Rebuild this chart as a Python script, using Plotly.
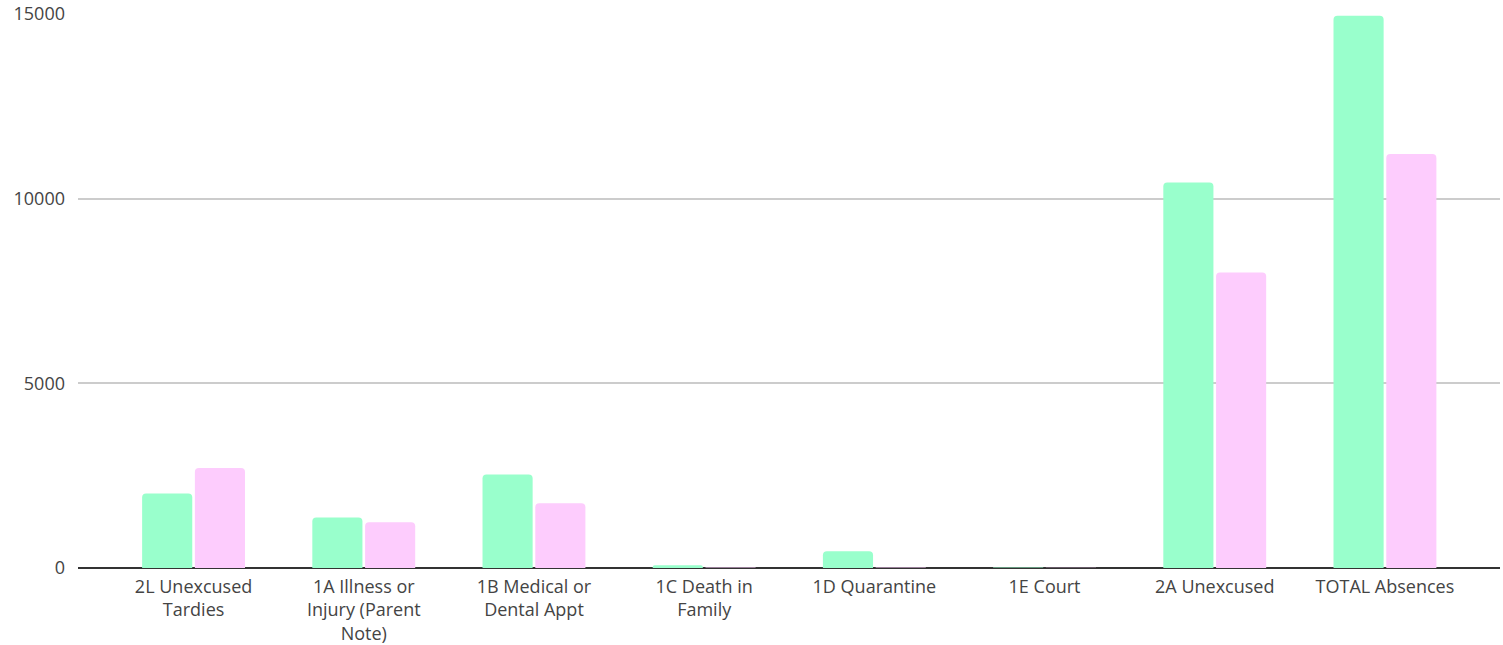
import plotly.graph_objects as go

categories = [
    "2L Unexcused<br>Tardies",
    "1A Illness or<br>Injury (Parent<br>Note)",
    "1B Medical or<br>Dental Appt",
    "1C Death in<br>Family",
    "1D Quarantine",
    "1E Court",
    "2A Unexcused",
    "TOTAL Absences",
]
series_a = [2015, 1365, 2530, 75, 455, 15, 10440, 14950]
series_b = [2710, 1240, 1755, 12, 15, 10, 8000, 11210]
y_ticks = [0, 5000, 10000, 15000]

fig = go.Figure()
fig.add_trace(go.Bar(x=categories, y=series_a, name="Series A",
                     marker=dict(color="#99ffcc", line=dict(width=0))))
fig.add_trace(go.Bar(x=categories, y=series_b, name="Series B",
                     marker=dict(color="#fdccfd", line=dict(width=0))))

fig.update_layout(
    width=1503, height=645,
    margin=dict(l=78, r=3, t=14, b=77, autoexpand=False),
    paper_bgcolor="white", plot_bgcolor="white",
    barmode="group", bargap=0.38, bargroupgap=0.05,
    barcornerradius=4,
    showlegend=False,
    font=dict(family="Open Sans, sans-serif", size=18, color="#444444"),
)
fig.update_xaxes(
    range=[-0.679, 7.676], showgrid=False, showline=False, zeroline=False,
    ticks="", tickangle=0, tickfont=dict(size=18, color="#444444"),
    ticklabelstandoff=6,
    automargin=False, fixedrange=True,
)
fig.update_yaxes(
    range=[0, 15000], tickvals=y_ticks, ticktext=[str(v) for v in y_ticks],
    showgrid=True, gridcolor="#cccccc", gridwidth=2,
    zeroline=True, zerolinecolor="#333333", zerolinewidth=2,
    showline=False, ticks="", ticklabelstandoff=12,
    tickfont=dict(size=18, color="#444444"),
    automargin=False, fixedrange=True,
)

fig.write_html(
    "out.html",
    config=dict(displayModeBar=False, staticPlot=True),
    post_script="document.body.style.margin='0';document.body.style.overflow='hidden';",
)
